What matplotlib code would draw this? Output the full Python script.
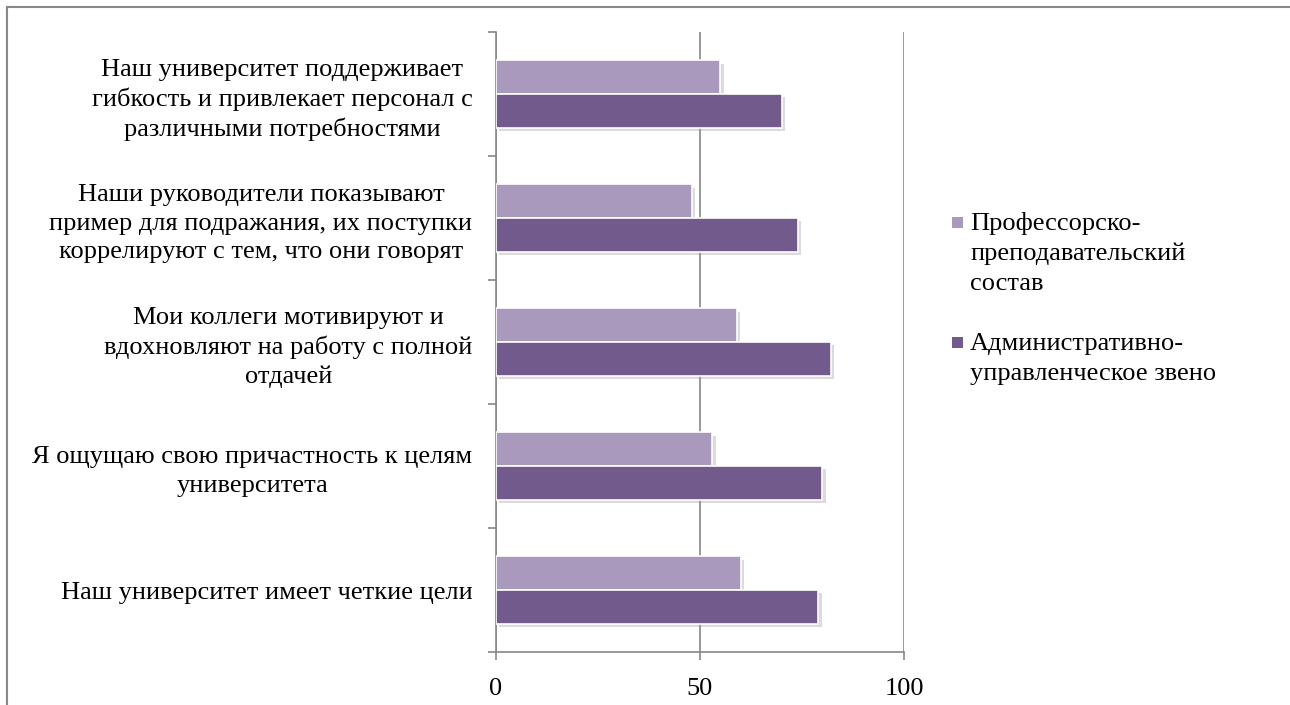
import matplotlib
matplotlib.use("Agg")
import matplotlib.pyplot as plt
import matplotlib.patheffects as pe
from matplotlib.lines import Line2D
from matplotlib.patches import Rectangle
import numpy as np

plt.rcParams['font.family'] = ['Liberation Serif', 'DejaVu Serif']

categories = [
    "Наш университет поддерживает\nгибкость и привлекает персонал с\nразличными потребностями",
    "Наши руководители показывают\nпример для подражания, их поступки\nкоррелируют с тем, что они говорят",
    "Мои коллеги мотивируют и\nвдохновляют на работу с полной\nотдачей",
    "Я ощущаю свою причастность к целям\nуниверситета",
    "Наш университет имеет четкие цели",
]
series_names = ["Профессорско-\nпреподавательский\nсостав",
                "Административно-\nуправленческое звено"]
pps_values = [55, 48, 59, 53, 60]
aup_values = [70, 74, 82, 80, 79]
xticks = [0, 50, 100]

light = "#A99ABD"
dark = "#725A8D"
gray = "#888888"
FS = 19

W, H = 1290, 705
fig = plt.figure(figsize=(W / 100, H / 100), dpi=100)
ax = fig.add_axes([496 / W, 1 - 652 / H, (904 - 496) / W, (652 - 32) / H])

n = len(categories)
y = np.arange(n)[::-1]  # first category at top
h = 0.272
shadow = [pe.SimplePatchShadow(offset=(2.5, -2.5), shadow_rgbFace='#999999', alpha=0.35), pe.Normal()]
b1 = ax.barh(y + h / 2, pps_values, height=h, color=light, edgecolor='white', linewidth=1.2,
             label=series_names[0], zorder=3)
b2 = ax.barh(y - h / 2, aup_values, height=h, color=dark, edgecolor='white', linewidth=1.2,
             label=series_names[1], zorder=3)
for bar in list(b1) + list(b2):
    bar.set_path_effects(shadow)

ax.set_xlim(0, 100)
ax.set_ylim(-0.5, n - 0.5)
ax.set_xticks(xticks)
ax.set_xticklabels([str(t) for t in xticks], fontsize=FS)
ax.set_yticks(y)
ax.set_yticklabels(categories, fontsize=FS, ha='right', multialignment='center', linespacing=1.36)
ax.tick_params(axis='y', length=0, pad=17)
ax.set_yticks(np.arange(-0.5, n, 1.0), minor=True)
ax.tick_params(axis='y', which='minor', length=6, width=1.2, color=gray, direction='out')
ax.tick_params(axis='x', length=6, width=1.2, color=gray, direction='out', pad=13)

ax.xaxis.grid(True, color=gray, linewidth=1.2)
ax.set_axisbelow(True)
for s in ['top', 'right']:
    ax.spines[s].set_visible(False)
for s in ['left', 'bottom']:
    ax.spines[s].set_color(gray)
    ax.spines[s].set_linewidth(1.2)

# legend (drawn manually to match layout: marker aligned with first line)
leg_colors = [light, dark]
leg_first_baseline = [230, 350]
line_step = 30
for name, col, base in zip(series_names, leg_colors, leg_first_baseline):
    fig.add_artist(Rectangle(((957 - 5.5) / W, 1 - (base - 8 + 5.5) / H), 11 / W, 11 / H,
                             transform=fig.transFigure, facecolor=col, edgecolor='none'))
    for i, line in enumerate(name.split("\n")):
        fig.text(970 / W, 1 - (base + i * line_step) / H, line, fontsize=FS,
                 ha='left', va='baseline')

# outer chart frame (top and left edges)
fig.add_artist(Line2D([7 / W, 1], [1 - 7 / H, 1 - 7 / H], transform=fig.transFigure, color=gray, lw=1.5))
fig.add_artist(Line2D([7 / W, 7 / W], [0, 1 - 7 / H], transform=fig.transFigure, color=gray, lw=1.5))

fig.savefig("out.png", dpi=100)
